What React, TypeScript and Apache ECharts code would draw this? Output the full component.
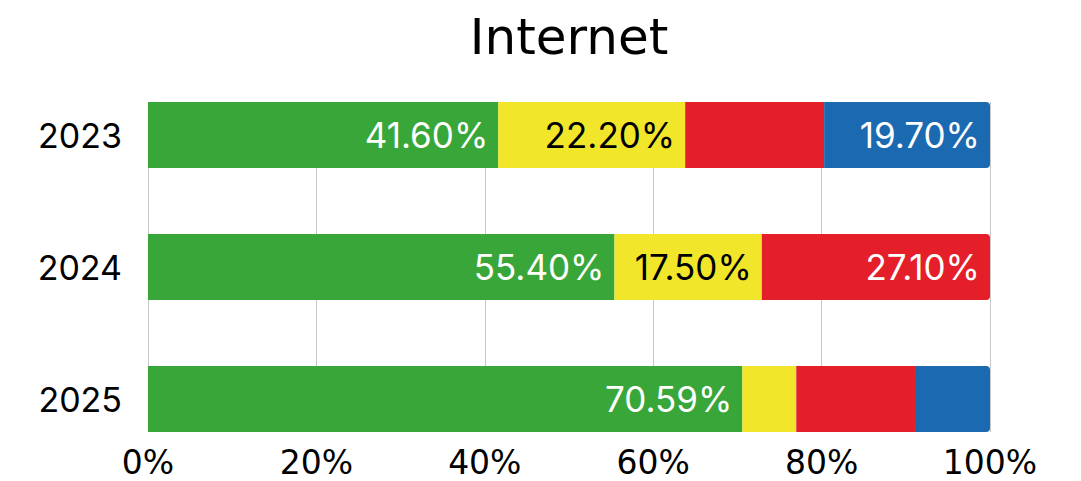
import React, { useEffect, useRef } from "react";
import * as echarts from "echarts";

const categories = ["2023", "2024", "2025"];
const greenValues = [41.6, 55.4, 70.59];
const yellowValues = [22.2, 17.5, 6.4];
const redValues = [16.5, 27.1, 14.1];
const blueValues = [19.7, 0, 8.91];
const greenShow = [true, true, true];
const yellowShow = [true, true, false];
const redShow = [false, true, false];
const blueShow = [true, false, false];
const xTicks = [0, 20, 40, 60, 80, 100];

const LABEL_FONT = "Inter, 'Open Sans', sans-serif";
const AXIS_FONT = "'DejaVu Sans', sans-serif";

function makeSeries(
  name: string,
  values: number[],
  show: boolean[],
  color: string,
  labelColor: string,
  roundLast: boolean[]
) {
  return {
    name,
    type: "bar",
    stack: "total",
    xAxisIndex: 0,
    yAxisIndex: 0,
    barWidth: 66,
    data: values.map((v, i) => ({
      value: v === 0 ? null : v,
      itemStyle: {
        color,
        borderRadius: roundLast[i] ? [0, 4, 4, 0] : 0,
      },
      label: {
        show: show[i],
        position: "insideRight",
        distance: 10,
        color: labelColor,
        fontFamily: LABEL_FONT,
        fontSize: 35,
        formatter: (p: any) => Number(p.value).toFixed(2) + "%",
      },
    })),
  };
}

export default function App() {
  const ref = useRef<HTMLDivElement>(null);
  useEffect(() => {
    if (!ref.current) return;
    const chart = echarts.init(ref.current, undefined, { renderer: "svg" });
    const lastIndex = categories.map((_, i) => {
      if (blueValues[i] > 0) return 3;
      if (redValues[i] > 0) return 2;
      if (yellowValues[i] > 0) return 1;
      return 0;
    });
    chart.setOption({
      animation: false,
      backgroundColor: "#ffffff",
      graphic: [
        {
          type: "text",
          x: 569,
          y: 37,
          style: {
            text: "Internet",
            fontFamily: AXIS_FONT,
            fontSize: 50,
            fill: "#000000",
            align: "center",
            verticalAlign: "middle",
          },
        },
      ],
      grid: [
        { left: 148, right: 91, top: 69, bottom: 16 },
        { left: 148, right: 91, top: 102, bottom: 49 },
      ],
      xAxis: [
        { gridIndex: 0, type: "value", min: 0, max: 100, show: false },
        {
          gridIndex: 1,
          type: "value",
          min: 0,
          max: 100,
          interval: 20,
          axisLine: { show: false },
          axisTick: { show: false },
          splitLine: { show: true, lineStyle: { color: "#c9c9c9", width: 1 } },
          axisLabel: {
            margin: 16,
            lineHeight: 28,
            fontFamily: AXIS_FONT,
            fontSize: 33,
            color: "#000000",
            formatter: (v: number) => (xTicks.includes(v) ? v + "%" : ""),
          },
        },
      ],
      yAxis: [
        {
          gridIndex: 0,
          type: "category",
          inverse: true,
          data: categories,
          axisLine: { show: false },
          axisTick: { show: false },
          splitLine: { show: false },
          axisLabel: {
            margin: 26,
            fontFamily: LABEL_FONT,
            fontSize: 34,
            color: "#000000",
          },
        },
        { gridIndex: 1, type: "value", min: 0, max: 1, show: false },
      ],
      series: [
        makeSeries("Green", greenValues, greenShow, "#38a638", "#ffffff", lastIndex.map((l) => l === 0)),
        makeSeries("Yellow", yellowValues, yellowShow, "#f2e62b", "#000000", lastIndex.map((l) => l === 1)),
        makeSeries("Red", redValues, redShow, "#e41f29", "#ffffff", lastIndex.map((l) => l === 2)),
        makeSeries("Blue", blueValues, blueShow, "#1b69b0", "#ffffff", lastIndex.map((l) => l === 3)),
      ],
    });
    return () => chart.dispose();
  }, []);
  return (
    <div
      ref={ref}
      style={{ position: "fixed", left: 0, top: 0, width: 1081, height: 481 }}
    />
  );
}
